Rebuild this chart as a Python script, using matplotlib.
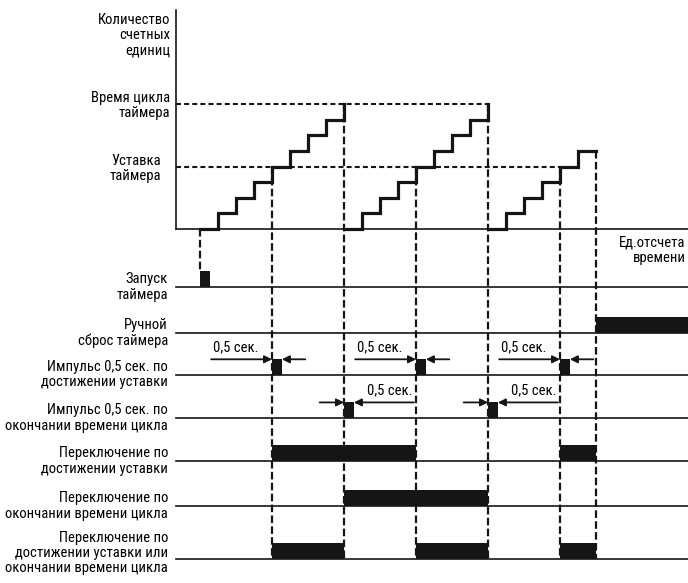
import numpy as np
import matplotlib.pyplot as plt
import matplotlib.font_manager as fm

# prefer a known narrow font, fall back to Roboto
names = {f.name for f in fm.fontManager.ttflist}
family = 'Roboto'
for cand in ['Liberation Sans Narrow', 'Roboto Condensed', 'DejaVu Sans Condensed', 'Open Sans Condensed']:
    if cand in names:
        family = cand
        break
plt.rcParams['font.family'] = [family, 'DejaVu Sans']

# counter cycles: start time, counts reached at each step, end time
cycle_start = [0, 8, 16]
cycle_end = [8, 16, 22]
cycle_counts = [[0, 1, 2, 3, 4, 5, 6, 7, 8],
                [0, 1, 2, 3, 4, 5, 6, 7, 8],
                [0, 1, 2, 3, 4, 5]]
setpoint = 4
cycle_time = 8

# signals (time units)
start_pulse = [(0, 0.55)]
manual_reset = [(22, 28)]
pulse_len = 0.55
pulse_setpoint = [4, 12, 20]
pulse_cycle = [8, 16]
switch_setpoint = [(4, 12), (20, 22)]
switch_cycle = [(8, 16)]
switch_any = [(4, 8), (12, 16), (20, 22)]
setpoint_times = [4, 12, 20]
end_times = [8, 16]
stop_time = 22

top_labels = ['Количество\nсчетных\nединиц', 'Время цикла\nтаймера', 'Уставка\nтаймера']
row_labels = ['Запуск\nтаймера',
              'Ручной\nсброс таймера',
              'Импульс 0,5 сек. по\nдостижении уставки',
              'Импульс 0,5 сек. по\nокончании времени цикла',
              'Переключение по\nдостижении уставки',
              'Переключение по\nокончании времени цикла',
              'Переключение по\nдостижении уставки или\nокончании времени цикла']
time_label = 'Ед.отсчета\nвремени'
pulse_text = '0,5 сек.'

# layout (y in count units)
row_y = [-3.71, -6.66, -9.34, -12.10, -14.85, -17.73, -21.12]
label_y = [-3.71, -6.66, -9.34, -12.10, -14.85, -17.73, -20.75]
bar_h = 1.0
x_axis = -1.33
x_lab = -1.78
x_right = 27.11
ink = '#151515'

fig = plt.figure(figsize=(6.88, 5.83), dpi=100)
ax = fig.add_axes([0, 0, 1, 1])
ax.set_xlim(-11.11, x_right)
ax.set_ylim(-22.66, 14.66)
ax.axis('off')

# size the font so the widest label is about 162 px wide
probe = fig.text(0, 0, 'окончании времени цикла', fontsize=10)
w = probe.get_window_extent(renderer=fig.canvas.get_renderer()).width
probe.remove()
fs = min(11, 10 * 162 / w)
ls = 1.1

# counter plot axes
ax.plot([x_axis, x_axis], [0, 14.0], color=ink, lw=1.2)
ax.plot([x_axis, x_right], [0, 0], color=ink, lw=1.2)
ax.plot([x_axis, end_times[-1]], [cycle_time, cycle_time], color=ink, lw=1.5, ls=(0, (2.4, 1.5)))
ax.plot([x_axis, setpoint_times[-1]], [setpoint, setpoint], color=ink, lw=1.5, ls=(0, (2.4, 1.5)))

for s, e, c in zip(cycle_start, cycle_end, cycle_counts):
    t = list(s + np.arange(len(c))) + [e]
    v = list(c) + [c[-1]]
    ax.step(t, v, where='post', color=ink, lw=2.3, solid_joinstyle='miter')

# dashed verticals
vdash = dict(color=ink, lw=1.6, ls=(0, (3.4, 1.5)))
ax.plot([cycle_start[0], cycle_start[0]], [0, row_y[0] + bar_h], **vdash)
for t in setpoint_times:
    ax.plot([t, t], [setpoint, row_y[-1]], **vdash)
for t in end_times:
    ax.plot([t, t], [cycle_time, row_y[-1]], **vdash)
ax.plot([stop_time, stop_time], [cycle_counts[-1][-1], row_y[-1]], **vdash)

# signal rows
pulses_sp = [(t, t + pulse_len) for t in pulse_setpoint]
pulses_ct = [(t, t + pulse_len) for t in pulse_cycle]
rows = [start_pulse, manual_reset, pulses_sp, pulses_ct, switch_setpoint, switch_cycle, switch_any]
for y, ly, segs, lab in zip(row_y, label_y, rows, row_labels):
    ax.plot([x_axis, x_right], [y, y], color=ink, lw=1.2)
    for a, b in segs:
        ax.fill_between([a, b], y, y + bar_h, color=ink, lw=0)
    ax.text(x_lab, ly, lab, ha='right', va='center', fontsize=fs, linespacing=ls)

ax.text(-1.66, 12.4, top_labels[0], ha='right', va='center', fontsize=fs, linespacing=ls)
ax.text(-1.66, 7.9, top_labels[1], ha='right', va='center', fontsize=fs, linespacing=ls)
ax.text(-2.16, 3.9, top_labels[2], ha='right', va='center', fontsize=fs, linespacing=ls)
ax.text(26.98, -1.35, time_label, ha='right', va='center', fontsize=fs, linespacing=ls)

# 0,5 sec arrows
arr = dict(arrowstyle='-|>', color=ink, lw=1.3, mutation_scale=11, shrinkA=0, shrinkB=0)
for t in pulse_setpoint:
    y = row_y[2] + bar_h
    ax.annotate('', xy=(t, y), xytext=(t - 3.38, y), arrowprops=arr)
    ax.annotate('', xy=(t + pulse_len, y), xytext=(t + pulse_len + 1.3, y), arrowprops=arr)
    ax.text(t - 3.3, y + 0.35, pulse_text, ha='left', va='bottom', fontsize=fs)
for t in pulse_cycle:
    y = row_y[3] + bar_h
    ax.annotate('', xy=(t, y), xytext=(t - 1.35, y), arrowprops=arr)
    ax.annotate('', xy=(t + pulse_len, y), xytext=(t + pulse_len + 3.33, y), arrowprops=arr)
    ax.text(t + pulse_len + 3.25, y + 0.35, pulse_text, ha='right', va='bottom', fontsize=fs)

fig.savefig('out.png', dpi=100)
